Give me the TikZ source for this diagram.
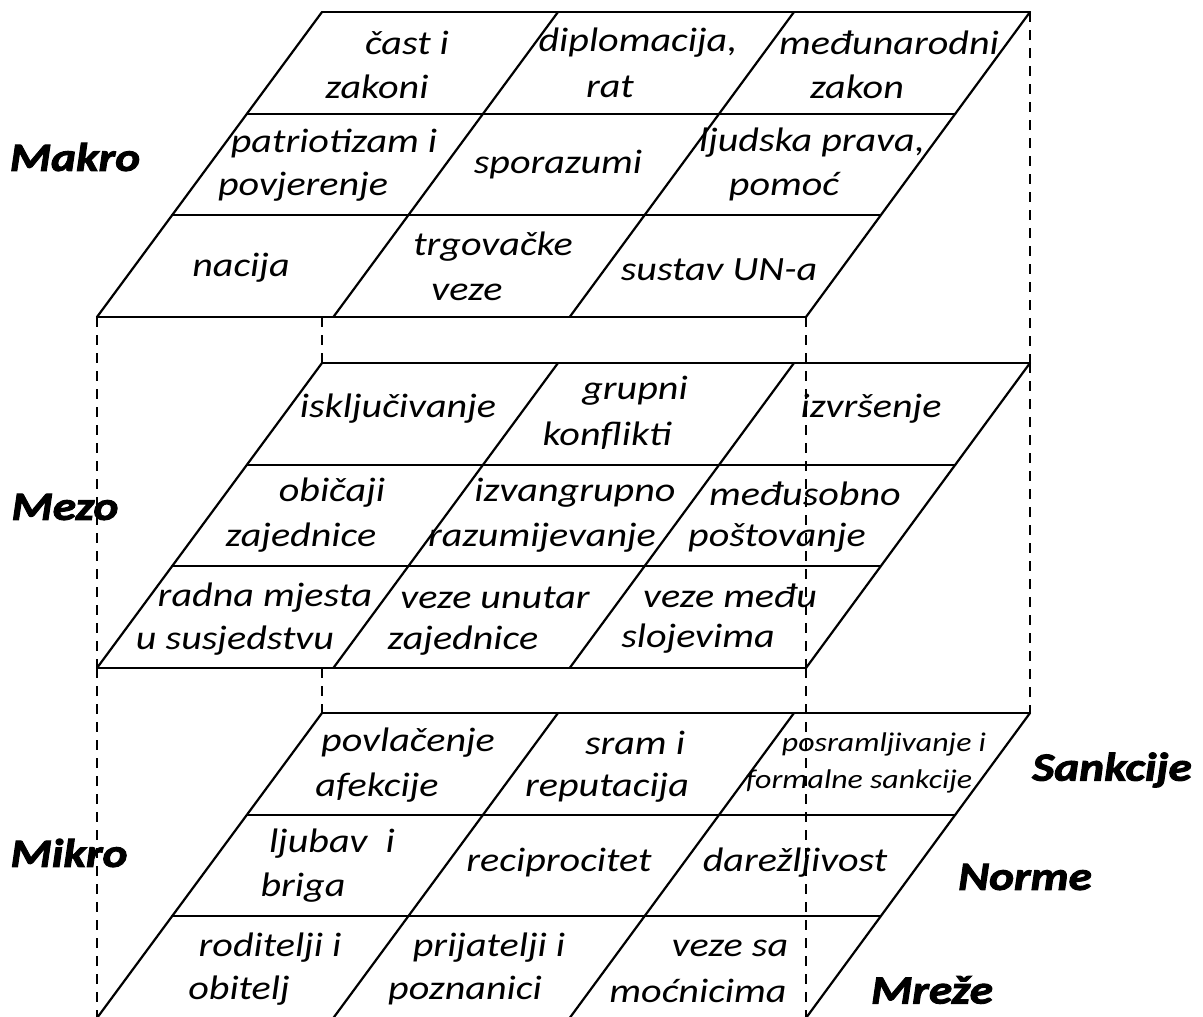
\documentclass[tikz,border=0pt]{standalone}
\usepackage{fontspec}
\setmainfont{Carlito}[FakeStretch=1.18, BoldItalicFeatures={FakeBold=2.5}]
\usetikzlibrary{positioning,calc}
\tikzset{
  grid line/.style={draw, line width=2.2pt, line cap=round},
  hidden line/.style={draw, line width=2pt, dash pattern=on 10pt off 8pt},
  cell/.style={font=\itshape\fontsize{34}{40}\selectfont, inner sep=0pt},
  small cell/.style={font=\itshape\fontsize{27}{32}\selectfont, inner sep=0pt},
  level/.style={font=\bfseries\itshape\fontsize{40}{48}\selectfont, inner sep=0pt}
}
\begin{document}
\begin{tikzpicture}[x=1pt,y=-1pt]
    \useasboundingbox (0,0) rectangle (1203,1017);

    % Corners of the three layers
    \foreach \top/\lay in {12/top, 363/mid, 713/bot} {
      \coordinate (\lay-tl) at (322,\top);
      \coordinate (\lay-tr) at (1030,\top);
      \coordinate (\lay-bl) at (97,\top+305);
      \coordinate (\lay-br) at (806,\top+305);
    }
    \coordinate (top-hid) at (322,317);
    \coordinate (mid-hid) at (322,668);

    % The grids
    \foreach \lay in {top, mid, bot} {
      \foreach \i in {0,1,2,3} {
        \path[grid line] ($(\lay-tl)!\i/3!(\lay-bl)$) -- ($(\lay-tr)!\i/3!(\lay-br)$);
        \path[grid line] ($(\lay-tl)!\i/3!(\lay-tr)$) -- ($(\lay-bl)!\i/3!(\lay-br)$);
      }
    }

    % The hidden edges between layers
    \foreach \source/\sink in {top-bl/mid-bl, mid-bl/bot-bl, top-br/mid-br, mid-br/bot-br, top-tr/mid-tr, mid-tr/bot-tr, top-hid/mid-tl, mid-hid/bot-tl} {
      \path[hidden line] (\source) -- (\sink);
    }

    % Makro
    \foreach \pos/\name/\txt in {{(407,43)/c11a/{čast i}}, {(377,87)/c11b/zakoni}, {(638,43)/c12a/{diplomacija,}}, {(610,87)/c12b/rat}, {(889,43)/c13a/međunarodni}, {(857,87)/c13b/zakon}, {(334,143)/c21a/{patriotizam i}}, {(303,187)/c21b/povjerenje}, {(558,165)/c22/sporazumi}, {(812,143)/c23a/{ljudska prava,}}, {(784,187)/c23b/pomoć}, {(241,268)/c31/nacija}, {(493,247)/c32a/trgovačke}, {(467,292)/c32b/veze}, {(719,270)/c33/{sustav UN-a}}} {
      \node[cell] (\name) at \pos {\txt};
    }

    % Mezo
    \foreach \pos/\name/\txt in {{(398,409)/e11/isključivanje}, {(635,391)/e12a/grupni}, {(607,436)/e12b/konflikti}, {(871,409)/e13/izvršenje}, {(332,493)/e21a/običaji}, {(301,538)/e21b/zajednice}, {(575,493)/e22a/izvangrupno}, {(542,538)/e22b/razumijevanje}, {(805,494)/e23a/međusobno}, {(777,538)/e23b/poštovanje}, {(265,598)/e31a/{radna mjesta}}, {(235,641)/e31b/{u susjedstvu}}, {(495,598)/e32a/{veze unutar}}, {(463,641)/e32b/zajednice}, {(730,596)/e33a/{veze među}}, {(698,639)/e33b/slojevima}} {
      \node[cell] (\name) at \pos {\txt};
    }

    % Mikro
    \foreach \pos/\name/\txt in {{(408,743)/i11a/povlačenje}, {(377,788)/i11b/afekcije}, {(635,743)/i12a/{sram i}}, {(607,788)/i12b/reputacija}, {(332,844)/i21a/{ljubav\ \ i}}, {(303,888)/i21b/briga}, {(559,863)/i22/reciprocitet}, {(795,863)/i23/darežljivost}, {(270,948)/i31a/{roditelji i}}, {(239,991)/i31b/obitelj}, {(489,948)/i32a/{prijatelji i}}, {(465,991)/i32b/poznanici}, {(730,948)/i33a/{veze sa}}, {(698,991)/i33b/moćnicima}} {
      \node[cell] (\name) at \pos {\txt};
    }
    \node[small cell] (i13a) at (884,744) {posramljivanje i};
    \node[small cell] (i13b) at (859,781) {formalne sankcije};

    % Levels and dimensions
    \node[level] (makro) at (75,157) {Makro};
    \node[level] (mezo) at (65,507) {Mezo};
    \node[level] (mikro) at (69,853) {Mikro};
    \node[level] (sankcije) at (1112,770) {Sankcije};
    \node[level] (norme) at (1025,877) {Norme};
    \node[level] (mreze) at (932,990) {Mreže};

\end{tikzpicture}
\end{document}
